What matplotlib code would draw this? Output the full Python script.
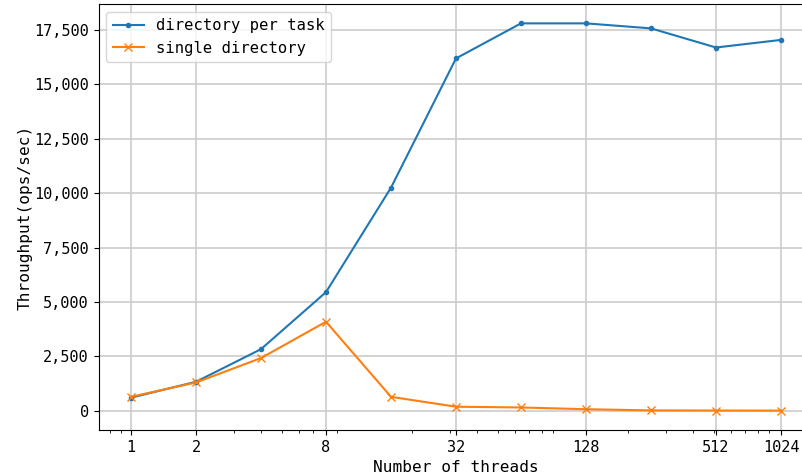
import matplotlib
matplotlib.use("Agg")
import matplotlib.pyplot as plt
from matplotlib.ticker import FuncFormatter, ScalarFormatter

matplotlib.rcParams.update({
    "font.family": "DejaVu Sans Mono",
    "font.size": 11,
    "axes.labelsize": 11.6,
    "legend.fontsize": 11.2,
})

# ── Data ─────────────────────────────────────────────────────────────────────
threads = [1, 2, 4, 8, 16, 32, 64, 128, 256, 512, 1024]
per_task = [600, 1330, 2830, 5450, 10250, 16190, 17800, 17800, 17570, 16690, 17040]
single_dir = [640, 1300, 2420, 4090, 640, 185, 150, 70, 15, 10, 5]
xtick_vals = [1, 2, 8, 32, 128, 512, 1024]

fig = plt.figure(figsize=(8.02, 4.76), dpi=100)
# axes runs slightly past the right edge, as in the (cropped) original
ax = fig.add_axes([98.5 / 802, 46 / 476, (813.5 - 98.5) / 802, 426 / 476])

ax.plot(threads, per_task, marker=".", markersize=6, label="directory per task")
ax.plot(threads, single_dir, marker="x", label="single directory")

ax.set_xscale("log")
ax.set_xticks(xtick_vals)
ax.xaxis.set_major_formatter(ScalarFormatter())
ax.yaxis.set_major_formatter(FuncFormatter(lambda v, p: f"{int(v):,}"))

ax.set_xlabel("Number of threads")
ax.set_ylabel("Throughput(ops/sec)", labelpad=1)
ax.grid(True, color="#cccccc", linewidth=1.2)
ax.legend(loc="upper left")

plt.savefig("out.png", dpi=100)
